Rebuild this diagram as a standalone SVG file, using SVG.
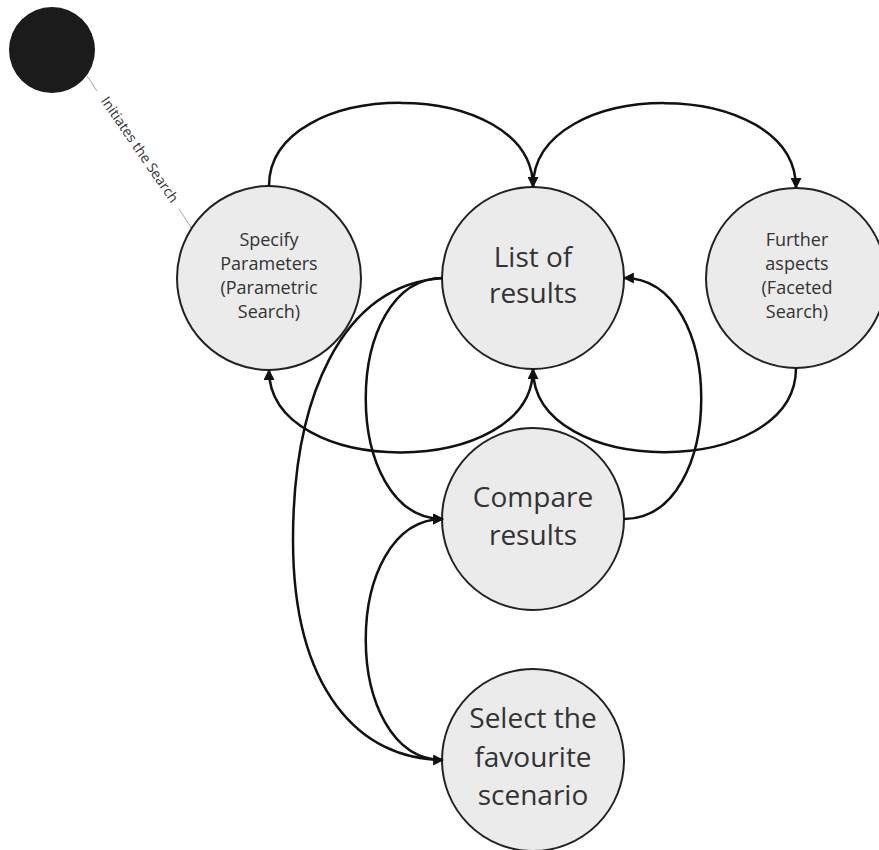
<svg xmlns="http://www.w3.org/2000/svg" width="879" height="850" viewBox="0 0 879 850">
<defs>
<marker id="arr" viewBox="0 0 10 10" refX="9" refY="5" markerWidth="11" markerHeight="11" markerUnits="userSpaceOnUse" orient="auto">
<path d="M0,0 L10,5 L0,10 z" fill="#111"/>
</marker>
<style>
.node{fill:#ebebeb;stroke:#222;stroke-width:2}
.t{font-family:"Open Sans","Noto Sans","Liberation Sans",sans-serif;fill:#333;text-anchor:middle}
.big{font-size:28px}
.small{font-size:18px}
.edge{fill:none;stroke:#111;stroke-width:2.5}
</style>
</defs>
<rect width="879" height="850" fill="#fff"/>
<g id="start">
<circle cx="52" cy="50" r="43" fill="#1b1b1b"/>
</g>
<g id="start-edge">
<line x1="87" y1="76" x2="97" y2="91" stroke="#aaa" stroke-width="1"/>
<line x1="179" y1="209" x2="192" y2="229" stroke="#aaa" stroke-width="1"/>
<text class="t" font-size="14" transform="translate(139,150) rotate(55.5)" dy="4">Initiates the Search</text>
</g>
<g id="specify">
<circle class="node" cx="269" cy="278" r="92"/>
<text class="t small" x="269" y="246">Specify</text>
<text class="t small" x="269" y="270">Parameters</text>
<text class="t small" x="269" y="294">(Parametric</text>
<text class="t small" x="269" y="318">Search)</text>
</g>
<g id="list">
<circle class="node" cx="533" cy="278" r="91"/>
<text class="t big" x="533" y="267">List of</text>
<text class="t big" x="533" y="303">results</text>
</g>
<g id="further">
<circle class="node" cx="796" cy="278" r="90"/>
<text class="t small" x="797" y="246">Further</text>
<text class="t small" x="797" y="270">aspects</text>
<text class="t small" x="797" y="294">(Faceted</text>
<text class="t small" x="797" y="318">Search)</text>
</g>
<g id="compare">
<circle class="node" cx="533" cy="519" r="91"/>
<text class="t big" x="533" y="507">Compare</text>
<text class="t big" x="533" y="545">results</text>
</g>
<g id="select">
<circle class="node" cx="533" cy="760" r="91"/>
<text class="t big" x="533" y="728">Select the</text>
<text class="t big" x="533" y="767">favourite</text>
<text class="t big" x="533" y="805">scenario</text>
</g>
<g id="connectors">
<path class="edge" d="M269,186 C269,75 533,75 533,187" marker-end="url(#arr)"/>
<path class="edge" d="M533,187 C533,75 796,75 796,188" marker-end="url(#arr)"/>
<path class="edge" d="M533,369 C533,480 269,480 269,370" marker-end="url(#arr)"/>
<path class="edge" d="M796,368 C796,480 533,480 533,369" marker-end="url(#arr)"/>
<path class="edge" d="M443,278 C340,278 340,519 443,519" marker-end="url(#arr)"/>
<path class="edge" d="M443,278 C340,285 293,400 293,540 C293,690 360,760 443,760" marker-end="url(#arr)"/>
<path class="edge" d="M624,519 C727,519 727,278 624,278" marker-end="url(#arr)"/>
<path class="edge" d="M443,760 C340,760 340,519 443,519" marker-end="url(#arr)"/>
</g>
</svg>
